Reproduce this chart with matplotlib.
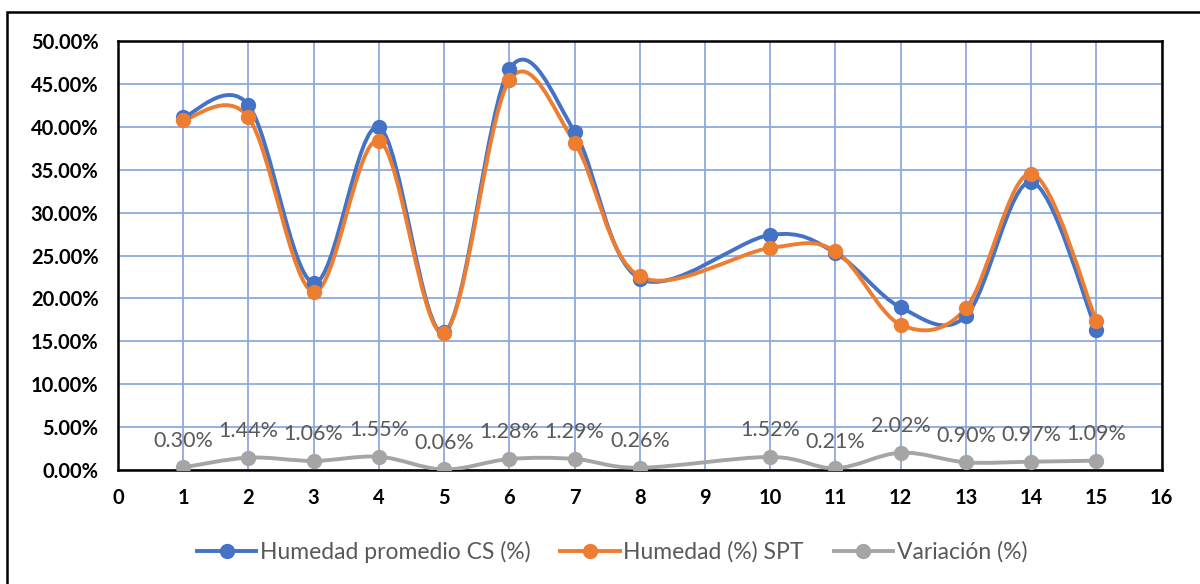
import numpy as np
import matplotlib.pyplot as plt
from matplotlib.path import Path
from matplotlib.patches import PathPatch, Rectangle
from matplotlib.lines import Line2D
from matplotlib.ticker import FuncFormatter, MultipleLocator

plt.rcParams['font.family'] = ['Lato', 'DejaVu Sans']

# data (values in %)
puntos = [1, 2, 3, 4, 5, 6, 7, 8, 10, 11, 12, 13, 14, 15]
humedad_cs = [41.10, 42.54, 21.80, 39.95, 16.03, 46.70, 39.45, 22.30,
              27.40, 25.30, 18.95, 17.95, 33.58, 16.30]
humedad_spt = [40.80, 41.10, 20.74, 38.40, 15.97, 45.42, 38.16, 22.56,
               25.88, 25.51, 16.93, 18.85, 34.55, 17.39]
variacion = [0.30, 1.44, 1.06, 1.55, 0.06, 1.28, 1.29, 0.26,
             1.52, 0.21, 2.02, 0.90, 0.97, 1.09]

series = [
    ('Humedad promedio CS (%)', humedad_cs, '#4472C4'),
    ('Humedad (%) SPT', humedad_spt, '#ED7D31'),
    ('Variación (%)', variacion, '#A5A5A5'),
]


def smooth_path(x, y):
    # Excel-like smoothed line: cubic bezier through the points
    pts = np.column_stack([x, y]).astype(float)
    n = len(pts)
    verts = [pts[0]]
    codes = [Path.MOVETO]
    for i in range(n - 1):
        p0 = pts[i - 1] if i > 0 else pts[i]
        p1 = pts[i]
        p2 = pts[i + 1]
        p3 = pts[i + 2] if i + 2 < n else pts[i + 1]
        c1 = p1 + (p2 - p0) / 6.0
        c2 = p2 - (p3 - p1) / 6.0
        verts += [c1, c2, p2]
        codes += [Path.CURVE4] * 3
    return Path(verts, codes)


fig = plt.figure(figsize=(12, 5.84), dpi=100)
ax = fig.add_axes([0.0983, 0.1952, 0.8697, 0.7346])

for label, vals, color in series:
    ax.add_patch(PathPatch(smooth_path(puntos, vals), facecolor='none',
                           edgecolor=color, lw=2.8, zorder=3,
                           capstyle='round', joinstyle='round'))
    ax.plot(puntos, vals, linestyle='none', color=color, marker='o',
            markersize=10, label=label, zorder=4)

# data labels for variation
for x, v in zip(puntos, variacion):
    ax.annotate(f'{v:.2f}%', (x, v), xytext=(0, 12), textcoords='offset points',
                ha='center', va='bottom', fontsize=15.5, color='#595959')

ax.set_xlim(0, 16)
ax.set_ylim(0, 50)
ax.xaxis.set_major_locator(MultipleLocator(1))
ax.yaxis.set_major_locator(MultipleLocator(5))
ax.yaxis.set_major_formatter(FuncFormatter(lambda v, p: f'{v:.2f}%'))
ax.grid(True, color='#8EA9DB', lw=1.3)
ax.set_axisbelow(True)
ax.tick_params(length=0, labelsize=14.5)
ax.tick_params(axis='y', pad=14)
ax.tick_params(axis='x', pad=13)
for t in ax.get_xticklabels() + ax.get_yticklabels():
    t.set_fontweight('bold')
for s in ax.spines.values():
    s.set_color('black')
    s.set_linewidth(1.8)

# legend with line + marker handles
handles = [Line2D([0], [0], color=c, lw=2.8, marker='o', markersize=10)
           for _, _, c in series]
leg = fig.legend(handles, [s[0] for s in series], loc='center',
                 bbox_to_anchor=(0.51, 0.055), ncol=3, frameon=False,
                 fontsize=16.5, handlelength=2.6, columnspacing=1.3,
                 handletextpad=0.15)
for t in leg.get_texts():
    t.set_color('#595959')

# outer chart border
fig.patches.append(Rectangle((0.006, -0.01), 1.0, 0.989, transform=fig.transFigure,
                             fill=False, edgecolor='black', lw=1.8))

plt.savefig('out.png', dpi=100)
